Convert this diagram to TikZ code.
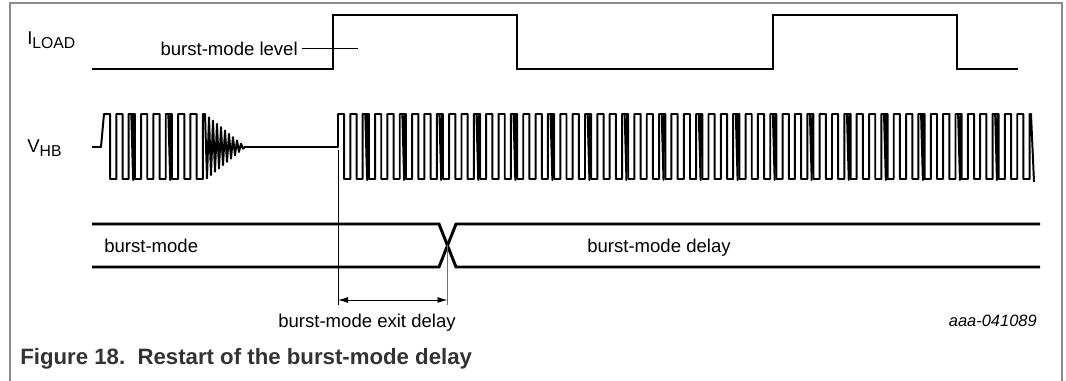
\documentclass[tikz,border=0pt]{standalone}
\usepackage{fontspec}
\setmainfont{Liberation Sans}
\usetikzlibrary{arrows.meta}

\newcommand{\lblsize}{\fontsize{13.2}{15}\selectfont}
\newcommand{\subsize}{\fontsize{11.2}{13}\selectfont}
\newcommand{\signame}[2]{#1\raisebox{-0.8mm}{\subsize #2}}

\begin{document}
\begin{tikzpicture}[x=0.25mm, y=-0.25mm,
  wave/.style={line width=1.4pt, line join=round},
  level/.style={line width=2.1pt},
  bus/.style={line width=2.1pt},
  thinline/.style={line width=0.7pt},
  txt/.style={inner sep=0pt, font=\lblsize}]
\useasboundingbox (0,0) rectangle (1066,381);

% frame
\draw[black!45, line width=1pt] (10,381) -- (10,3) -- (1062,3) -- (1062,381);

% signal names
\node[txt, anchor=base west] (iload) at (27,45) {\signame{I}{LOAD}};
\node[txt, anchor=base west] (vhb) at (27,153) {\signame{V}{HB}};

% load current
\draw[level] (92,69) -- (333,69) -- (333,15) -- (517,15) -- (517,69)
      -- (773,69) -- (773,15) -- (957,15) -- (957,69) -- (1018,69);
\node[txt, anchor=east] (lvl) at (298,48.5) {burst-mode level};
\coordinate (lvlend) at (358,48.5);
\draw[thinline] ([xshift=1mm]lvl.east) -- (lvlend);

% half-bridge voltage
\draw[wave] (92,147) -- (101,147) -- (104,114) -- (110.2,114) -- (110.2,179)
      \foreach \k in {1,...,7} { -- ({104+\k*12.35},179) -- ++(0,-65) -- ++(6.2,0) -- ++(0,65) }
      -- (202.8,179) -- (202.8,114) -- (205,114)
      \foreach \i in {1,...,20} { -- ({205+2*\i},{147+33*(1-\i/20)*(1-2*mod(\i+1,2))}) }
      -- (338,147) -- (338,114) -- (344.2,114) -- (344.2,179)
      \foreach \k in {1,...,55} { -- ({338+\k*12.35},179) -- ++(0,-65) -- ++(6.2,0) -- ++(0,65) }
      -- (1029.6,179) -- (1029.6,114) -- (1031,114) -- (1034,182);
\foreach \k in {2,5}
  \draw[wave] ({104+\k*12.35+2.6},114) -- ++(1.8,66) -- ++(0.6,-66);
\foreach \k in {2,5,...,53}
  \draw[wave] ({338+\k*12.35+2.6},114) -- ++(1.8,66) -- ++(0.6,-66);

% state bus
\draw[bus] (92,224) -- (439,224) -- (456,267) -- (1040,267);
\draw[bus] (92,267) -- (439,267) -- (456,224) -- (1040,224);
\node[txt, anchor=base west] (bm) at (104,253) {burst-mode};
\node[txt, anchor=base west] (bmd) at (587,253) {burst-mode delay};

% exit delay
\coordinate (hbrise) at (338,150);
\coordinate (exitL) at (338,305);
\coordinate (cross) at (447.5,245.5);
\coordinate (exitR) at (447.5,305);
\coordinate (arrL) at (338,300);
\coordinate (arrR) at (447.5,300);
\draw[thinline] (hbrise) -- (exitL);
\draw[thinline, black!55] (cross) -- (exitR);
\draw[thinline, {Latex[length=2.5mm,width=1.5mm]}-{Latex[length=2.5mm,width=1.5mm]}] (arrL) -- (arrR);
\node[txt, anchor=base] (exit) at (367,328) {burst-mode exit delay};

\node[inner sep=0pt, anchor=base east, font=\fontsize{11.7}{14}\selectfont\itshape] (code) at (1037,327) {aaa-041089};
\node[inner sep=0pt, anchor=base west, font=\fontsize{15.8}{18}\selectfont\bfseries, text=black!80] (cap) at (20,365) {Figure 18.\ \ Restart of the burst-mode delay};
\end{tikzpicture}
\end{document}
